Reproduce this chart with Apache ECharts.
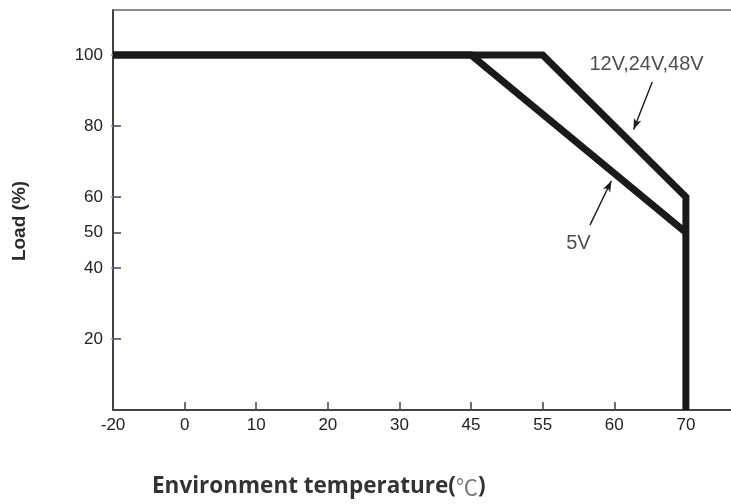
<!DOCTYPE html>
<html>
<head>
<meta charset="utf-8">
<script src="https://cdn.jsdelivr.net/npm/echarts@6/dist/echarts.min.js"></script>
<style>
html,body{margin:0;padding:0;background:#fff;}
#c{width:731px;height:504px;}
</style>
</head>
<body>
<div id="c"></div>
<script>
// ---- data ----
const tempTicks = [-20, 0, 10, 20, 30, 45, 55, 60, 70];
const loadTicks = [20, 40, 50, 60, 80, 100];
const curve12_24_48 = [[-20, 100], [55, 100], [70, 60], [70, 0]];
const curve5 = [[-20, 100], [45, 100], [70, 50]];
const annoLabels = [["12V,24V,48V", 64.5, 97.4], ["5V", 57.5, 47.0]];
const annoArrows = [[[65.3, 92.4], [62.7, 79.0]], [[58.3, 52.1], [59.8, 64.6]]];

// temperature -> evenly spaced tick position
function pos(t) {
  const n = tempTicks.length;
  for (let i = 0; i < n - 1; i++) {
    if (t <= tempTicks[i + 1]) return i + (t - tempTicks[i]) / (tempTicks[i + 1] - tempTicks[i]);
  }
  return (n - 1) + (t - tempTicks[n - 1]) / (tempTicks[n - 1] - tempTicks[n - 2]);
}
const mapPts = arr => arr.map(p => [pos(p[0]), p[1]]);

const narrow = "'Liberation Sans Narrow','Arial Narrow','Liberation Sans',Arial,sans-serif";
const tickIdx = tempTicks.map((t, i) => i);

const chart = echarts.init(document.getElementById('c'), null, {renderer: 'canvas'});
chart.setOption({
  animation: false,
  backgroundColor: '#fff',
  grid: {left: 113, right: 0, top: 10, bottom: 94, containLabel: false},
  xAxis: [{
    type: 'value', min: 0, max: 8.63, position: 'bottom',
    splitLine: {show: false},
    axisLine: {show: true, onZero: false, lineStyle: {color: '#444', width: 2}},
    axisTick: {show: true, inside: true, length: 8, customValues: tickIdx.slice(1, 8), lineStyle: {color: '#444', width: 1.5}},
    axisLabel: {show: true, customValues: tickIdx, margin: 7, color: '#222', fontSize: 17, fontFamily: narrow,
      formatter: v => String(tempTicks[Math.round(v)])}
  }, {
    type: 'value', min: 0, max: 8.63, position: 'top',
    splitLine: {show: false},
    axisLine: {show: true, onZero: false, lineStyle: {color: '#666', width: 1.5}},
    axisTick: {show: false}, axisLabel: {show: false}
  }],
  yAxis: [{
    type: 'value', min: 0, max: 112.7, position: 'left',
    splitLine: {show: false},
    axisLine: {show: true, onZero: false, lineStyle: {color: '#444', width: 2}},
    axisTick: {show: true, inside: true, length: 8, customValues: loadTicks, lineStyle: {color: '#444', width: 1.5}},
    axisLabel: {show: true, customValues: loadTicks, margin: 10, color: '#222', fontSize: 17, fontFamily: narrow},
    name: 'Load (%)', nameLocation: 'middle', nameRotate: 90, nameGap: 84,
    nameTextStyle: {fontSize: 19, fontWeight: 'bold', color: '#2a2a2a', padding: [0, 22, 0, 0],
      fontFamily: "'Liberation Sans',Arial,sans-serif"}
  }, {
    type: 'value', min: 0, max: 112.7, position: 'right',
    splitLine: {show: false},
    axisLine: {show: false},
    axisTick: {show: true, inside: true, length: 2, customValues: [20, 40, 60, 80, 100], lineStyle: {color: '#7d8ef0', width: 1.5}},
    axisLabel: {show: false}
  }],
  series: [{
    name: '12V,24V,48V', type: 'line', xAxisIndex: 0, yAxisIndex: 0,
    data: mapPts(curve12_24_48), symbol: 'none', silent: true,
    lineStyle: {color: '#1a1a1a', width: 7, join: 'miter', cap: 'butt'},
    markLine: {
      silent: true, symbol: ['none', 'arrow'], symbolSize: [6, 11],
      label: {show: false},
      lineStyle: {color: '#1a1a1a', width: 1.4, type: 'solid'},
      data: annoArrows.map(a => [{coord: [pos(a[0][0]), a[0][1]]}, {coord: [pos(a[1][0]), a[1][1]]}])
    }
  }, {
    name: '5V', type: 'line', xAxisIndex: 0, yAxisIndex: 0,
    data: mapPts(curve5), symbol: 'none', silent: true,
    lineStyle: {color: '#1a1a1a', width: 7, join: 'miter', cap: 'butt'}
  }, {
    type: 'scatter', xAxisIndex: 0, yAxisIndex: 0, silent: true,
    symbolSize: 0,
    data: annoLabels.map(a => [pos(a[1]), a[2], a[0]]),
    label: {show: true, position: 'inside', formatter: p => p.value[2],
      color: '#222', fontSize: 20, fontFamily: narrow}
  }],
  graphic: [{
    type: 'text', left: 152, top: 475,
    style: {
      text: '{b|Environment temperature(}{t|℃}{b|)}',
      rich: {
        b: {fontSize: 22.5, fontWeight: 'bold', fill: '#333', fontFamily: "'Open Sans','Noto Sans',sans-serif"},
        t: {fontSize: 22, fontWeight: 'normal', fill: '#777', fontFamily: "'Noto Sans CJK SC',sans-serif"}
      }
    }
  }]
});
</script>
</body>
</html>
